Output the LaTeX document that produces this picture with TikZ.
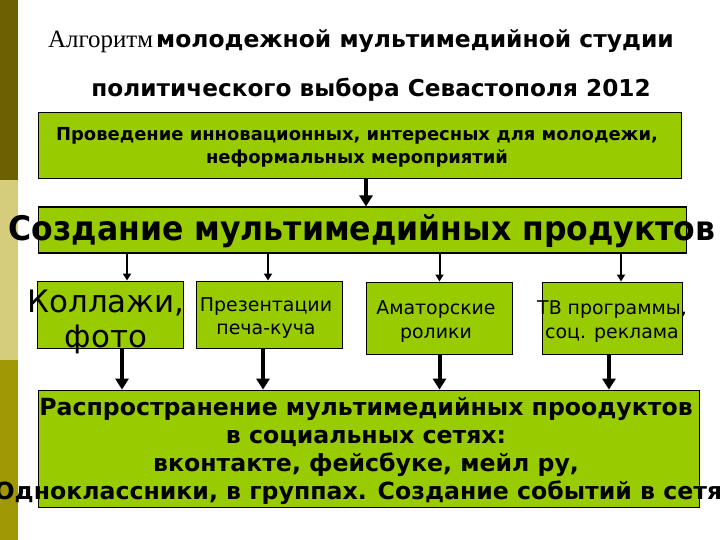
\documentclass[tikz,border=0pt]{standalone}
\usepackage{fontspec}
\setmainfont{DejaVu Sans}
\newfontfamily\tahoma{DejaVu Sans}
\newfontfamily\tahomanarrow[FakeStretch=0.93]{DejaVu Sans}
\newfontfamily\timesfont{Liberation Serif}
\usetikzlibrary{arrows.meta}
\definecolor{BoxFill} {RGB}{153,204,0}
\definecolor{BarDark} {RGB}{107,97,0}
\definecolor{BarLight}{RGB}{213,205,124}
\definecolor{BarMid}  {RGB}{160,152,5}
\tikzset{
  nd_box/.style={rectangle,draw=black,line width=1.2bp,fill=BoxFill,inner sep=0pt},
  nd_txt/.style={align=center,inner sep=0pt,text=black},
  arr_thin/.style={-{Triangle[length=7bp,width=8bp]},line width=2bp},
  arr_thick/.style={-{Triangle[length=11bp,width=13bp]},line width=4bp},
}
\newcommand{\fs}[2]{\fontsize{#1}{#2}\selectfont}

\begin{document}
\begin{tikzpicture}[x=1bp,y=-1bp]
\useasboundingbox (0,0) rectangle (720,540);
\fill[white](0,0) rectangle (720,540);
% side bars
\fill[BarDark] (0,0) rectangle (18,180);
\fill[BarLight](0,180) rectangle (18,360);
\fill[BarMid]  (0,360) rectangle (18,540);
% title
\node[nd_txt,anchor=base] at (361,48)(T1){{\timesfont\fs{25}{28}Алгоритм} {\tahoma\bfseries\fs{23.5}{28}молодежной мультимедийной студии}};
\node[nd_txt,anchor=base] at (371,97)(T2){\tahoma\bfseries\fs{23.3}{28}политического выбора Севастополя 2012};
% boxes
\node[nd_box,minimum width=646,minimum height=67] at (360,145.5)(P){};
\node[nd_box,minimum width=651,minimum height=46] at (362.5,230)(S){};
\node[nd_box,minimum width=147,minimum height=68] at (110.5,315)(K){};
\node[nd_box,minimum width=147,minimum height=68] at (269.5,315)(Pr){};
\node[nd_box,minimum width=147,minimum height=73] at (439.5,318.5)(A){};
\node[nd_box,minimum width=141,minimum height=73] at (612.5,318.5)(TV){};
\node[nd_box,minimum width=664,minimum height=118] at (369,449)(R){};
% texts
\node[nd_txt,font=\tahoma\bfseries\fs{18}{23}] at (357,147)(Pt){Проведение инновационных, интересных для молодежи,\\неформальных мероприятий};
\node[nd_txt,font=\tahomanarrow\bfseries\fs{34}{40}] at (362,231)(St){Создание мультимедийных продуктов};
\node[nd_txt,font=\tahoma\fs{31}{35}] at (106,322)(Kt){Коллажи,\\фото};
\node[nd_txt,font=\tahoma\fs{19}{23}] at (266,318)(Prt){Презентации\\печа-куча};
\node[nd_txt,font=\tahoma\fs{19}{24}] at (436,322)(At){Аматорские\\ролики};
\node[nd_txt,font=\tahoma\fs{19}{24}] at (612,322)(TVt){ТВ программы,\\соц. реклама};
\node[nd_txt,font=\tahoma\bfseries\fs{23.7}{28}] at (366,451)(Rt){Распространение мультимедийных проодуктов\\в социальных сетях:\\вконтакте, фейсбуке, мейл ру,\\Одноклассники, в группах. Создание событий в сетях};
% arrows
\draw[arr_thick]([xshift=6bp]P.south)--([xshift=6bp]P.south |- S.north);
\draw[arr_thin]([xshift=16.5bp]S.south -| K)--([xshift=16.5bp]K.north);
\draw[arr_thin]([xshift=-1.5bp]S.south -| Pr)--([xshift=-1.5bp]Pr.north);
\draw[arr_thin](S.south -| A)--(A.north);
\draw[arr_thin]([xshift=8.5bp]S.south -| TV)--([xshift=8.5bp]TV.north);
\draw[arr_thick]([xshift=11.5bp]K.south)--([xshift=11.5bp]K.south |- R.north);
\draw[arr_thick]([xshift=-6.5bp]Pr.south)--([xshift=-6.5bp]Pr.south |- R.north);
\draw[arr_thick](A.south)--(A.south |- R.north);
\draw[arr_thick]([xshift=-3.5bp]TV.south)--([xshift=-3.5bp]TV.south |- R.north);
\end{tikzpicture}
\end{document}
